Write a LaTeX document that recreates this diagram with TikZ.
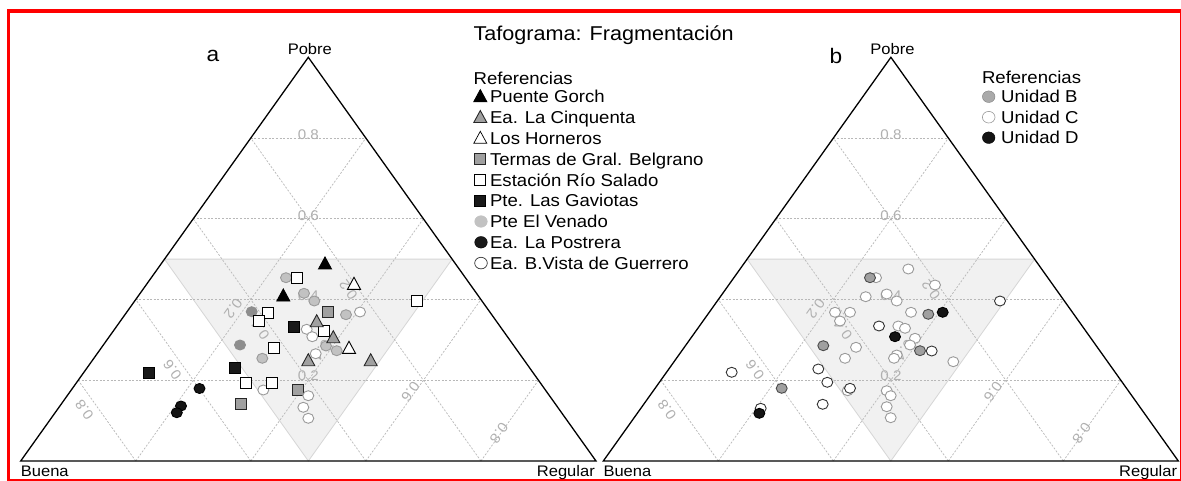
\documentclass[tikz,border=0pt]{standalone}
\usepackage{fontspec}
\setmainfont{Liberation Sans}[FakeStretch=1.08]
\usetikzlibrary{calc}
\definecolor{redf}{HTML}{FF0000}
\definecolor{gridc}{HTML}{B8B8B8}
\definecolor{lblc}{HTML}{B0B0B0}
\definecolor{shadef}{HTML}{F1F1F1}
\definecolor{shadeedge}{HTML}{D6D6D6}
\definecolor{midgray}{HTML}{A0A0A0}
\definecolor{lightg}{HTML}{C2C2C2}
\definecolor{darkg}{HTML}{8E8E8E}
\definecolor{edgeg}{HTML}{9A9A9A}
\newcommand{\mtri}[3]{\filldraw[#1] (#2,#3) ++(-6.5,5) -- ++(13,0) -- ++(-6.5,-12) -- cycle;}
\newcommand{\msq}[3]{\filldraw[#1] (#2-5.5,#3-5.5) rectangle (#2+5.5,#3+5.5);}
\newcommand{\mcir}[3]{\filldraw[#1] (#2,#3) ellipse [x radius=5.5, y radius=5];}
\newcommand{\lcir}[3]{\filldraw[#1] (#2,#3) ellipse [x radius=6.3, y radius=5.8];}
\begin{document}
\begin{tikzpicture}[x=1pt,y=-1pt,
  gridline/.style={draw=gridc, line width=0.7pt, dash pattern=on 2pt off 1.6pt},
  ticklbl/.style={text=lblc, font=\fontsize{14}{14}\selectfont, inner sep=0pt},
  axislbl/.style={font=\fontsize{15.3}{16}\selectfont, inner sep=0pt},
  legtxt/.style={font=\fontsize{17.2}{20}\selectfont, inner sep=0pt, anchor=base west},
  frame/.style={draw=black, line width=1.3pt, line join=miter},
  mk/.style={line width=0.9pt},
  blk/.style={mk, fill=black, draw=black},
  gtri/.style={mk, fill=midgray, draw=black!85},
  wtri/.style={mk, fill=white, draw=black},
  gsq/.style={mk, fill=midgray, draw=black!85},
  wsq/.style={mk, fill=white, draw=black},
  bsq/.style={mk, fill=black!90, draw=black},
  venado/.style={mk, fill=lightg, draw=edgeg},
  venadod/.style={mk, fill=darkg, draw=darkg},
  bcirc/.style={mk, fill=black!92, draw=black},
  wcirc/.style={mk, fill=white, draw=edgeg},
  wcircb/.style={mk, fill=white, draw=black!80},
  ugray/.style={mk, fill=midgray, draw=black!70},
  lwcirc/.style={line width=0.7pt, fill=white, draw=black!80}
]
\useasboundingbox (0,0) rectangle (1181,481);
\fill[white] (0,0) rectangle (1181,481);
% red frame
\fill[redf] (6.7,9.3) rectangle (1181,13.3);
\fill[redf] (6.7,9.3) rectangle (10,481);
\fill[redf] (6.7,478.7) rectangle (1181,481);
\fill[redf] (1179.6,9.3) rectangle (1181,481);

% corners
\coordinate (aB) at (20.7,461); \coordinate (aR) at (596,461); \coordinate (aP) at (308.3,57.3);
\coordinate (bB) at (603.3,461); \coordinate (bR) at (1178.3,461); \coordinate (bP) at (890.9,57.3);

\foreach \t/\dx in {a/0,b/582.6}{
  \filldraw[fill=shadef, draw=shadeedge, line width=0.8pt]
    ($(\t B)!.5!(\t P)$) -- ($(\t R)!.5!(\t P)$) -- ($(\t B)!.5!(\t R)$) -- cycle;
  \foreach \v in {0.2,0.4,0.6,0.8}{
    \draw[gridline] ($(\t B)!\v!(\t P)$) -- ($(\t R)!\v!(\t P)$);
    \draw[gridline] ($(\t R)!\v!(\t B)$) -- ($(\t P)!\v!(\t B)$);
    \draw[gridline] ($(\t B)!\v!(\t R)$) -- ($(\t P)!\v!(\t R)$);
  }
  \node[ticklbl] (\t p8) at (308.3+\dx,134.8) {0.8};
  \node[ticklbl] (\t p6) at (308.3+\dx,215.2) {0.6};
  \node[ticklbl] (\t p4) at (308.3+\dx,295.6) {0.4};
  \node[ticklbl] (\t p2) at (308.3+\dx,376.0) {0.2};
  \node[ticklbl, rotate=125.5] (\t b8) at (84.4+\dx,410) {0.8};
  \node[ticklbl, rotate=125.5] (\t b6) at (172.4+\dx,370) {0.6};
  \node[ticklbl, rotate=125.5] (\t b4) at (260.4+\dx,330) {0.4};
  \node[ticklbl, rotate=125.5] (\t b2) at (348.4+\dx,290) {0.2};
  \node[ticklbl, rotate=-125.5] (\t r8) at (499+\dx,433.3) {0.8};
  \node[ticklbl, rotate=-125.5] (\t r6) at (410.4+\dx,391.7) {0.6};
  \node[ticklbl, rotate=-125.5] (\t r4) at (321.8+\dx,350.1) {0.4};
  \node[ticklbl, rotate=-125.5] (\t r2) at (233.2+\dx,308.5) {0.2};
  \draw[frame] (\t B) -- (\t R) -- (\t P) -- cycle;
  \node[axislbl, anchor=base] (\t pobre) at ($(\t P)+(1.5,-2.8)$) {Pobre};
  \node[axislbl, anchor=base west] (\t buena) at ($(\t B)+(0,15)$) {Buena};
  \node[axislbl, anchor=base east] (\t regular) at ($(\t R)+(-1,15)$) {Regular};
}
\node[font=\fontsize{21}{22}\selectfont, inner sep=0pt, anchor=base] (la) at (213,61.7) {a};
\node[font=\fontsize{21}{22}\selectfont, inner sep=0pt, anchor=base] (lb) at (835.8,63.3) {b};

% title
\node[font=\fontsize{20}{24}\selectfont, inner sep=0pt, anchor=base west] (title) at (473.4,40.7) {Tafograma: Fragmentación};

% legend a
\node[legtxt] (refa) at (473.4,84.5) {Referencias};
\mtri{blk}{480.3}{96.7}
\mtri{gtri}{480.3}{117.5}
\mtri{line width=0.7pt, fill=white, draw=black}{480.3}{138.3}
\msq{gsq}{480.3}{159.1}
\msq{line width=0.7pt, fill=white, draw=black}{480.3}{179.9}
\msq{bsq}{480.3}{200.7}
\lcir{fill=lightg, draw=lightg}{481}{221.5}
\lcir{fill=black!90, draw=black}{481}{242.3}
\lcir{lwcirc}{481}{263.1}
\node[legtxt] (l1) at (489.9,102.9) {Puente Gorch};
\node[legtxt] (l2) at (489.9,123.7) {Ea. La Cinquenta};
\node[legtxt] (l3) at (489.9,144.5) {Los Horneros};
\node[legtxt] (l4) at (489.9,165.3) {Termas de Gral. Belgrano};
\node[legtxt] (l5) at (489.9,186.1) {Estación Río Salado};
\node[legtxt] (l6) at (489.9,206.9) {Pte. Las Gaviotas};
\node[legtxt] (l7) at (489.9,227.7) {Pte El Venado};
\node[legtxt] (l8) at (489.9,248.5) {Ea. La Postrera};
\node[legtxt] (l9) at (489.9,269.3) {Ea. B.Vista de Guerrero};

% legend b
\node[legtxt] (refb) at (981.8,83.5) {Referencias};
\lcir{fill=midgray!90, draw=gray}{988.7}{96.7}
\lcir{line width=0.6pt, fill=white, draw=edgeg}{988.7}{117.2}
\lcir{fill=black!92, draw=black}{988.7}{137.7}
\node[legtxt] (u1) at (1001,102.9) {Unidad B};
\node[legtxt] (u2) at (1001,123.4) {Unidad C};
\node[legtxt] (u3) at (1001,143.9) {Unidad D};

% data a
\mtri{blk}{325}{264}
\mcir{venado}{286}{277.7}
\msq{wsq}{297.3}{277.7}
\mtri{wtri}{354}{284.3}
\mtri{blk}{283.3}{296}
\mcir{venado}{304}{293.3}
\mcir{venado}{314.3}{301}
\msq{wsq}{416.7}{301}
\mcir{venadod}{251.7}{311.7}
\msq{wsq}{268.3}{312.7}
\msq{wsq}{259.3}{321.3}
\msq{gsq}{328.3}{312.3}
\mcir{venado}{346}{314.7}
\mcir{wcirc}{360}{312}
\msq{bsq}{294}{326.7}
\mcir{wcirc}{306.7}{329.3}
\mcir{wcirc}{312.3}{336.7}
\msq{wsq}{324}{330.7}
\mtri{gtri}{316.7}{321.7}
\mcir{venado}{326}{346}
\mcir{venado}{336.7}{350.7}
\mcir{wcirc}{315.7}{353.7}
\mtri{gtri}{333.3}{337.7}
\mtri{wtri}{349}{348.3}
\mcir{venadod}{240}{345}
\msq{wsq}{274}{347.7}
\mcir{venado}{262.3}{358.3}
\mtri{gtri}{308.3}{360.7}
\mtri{gtri}{370.7}{360.7}
\msq{bsq}{235}{368.3}
\msq{bsq}{149.3}{373.3}
\mcir{wcirc}{263.3}{390}
\msq{wsq}{245.7}{382.7}
\msq{wsq}{271.7}{383.3}
\msq{gsq}{298.3}{390}
\mcir{wcirc}{308.3}{395.7}
\mcir{wcirc}{303.3}{407.3}
\mcir{wcirc}{308.3}{418.3}
\msq{gsq}{240.7}{404}
\mcir{bcirc}{199.5}{388.5}
\mcir{bcirc}{181}{406}
\mcir{bcirc}{176.8}{412.7}

% data b
\foreach \x/\y in {908.3/269, 876/277.7, 935/285, 865.7/296.7, 886.7/294, 896.7/301,
  835/312.3, 850/312.3, 840/321, 911/312.3, 898.3/326, 905/328.3, 915/338.3, 910/345,
  856/347.3, 896.7/355, 894/358.3, 845/358.3, 953.3/361.7, 847.7/390.7, 886.7/390.7,
  890.7/395.7, 886.7/406.7, 890.7/417.7}{\mcir{wcirc}{\x}{\y}}
\foreach \x/\y in {1000/301, 879/326, 931.7/351, 731.7/372.3, 818.3/369, 827.3/382.3,
  850/388.3, 822.7/404.3, 760.7/408.3}{\mcir{wcircb}{\x}{\y}}
\foreach \x/\y in {870/277.7, 928.3/314.3, 823.3/345.7, 920/350.7, 781.7/388.3}{\mcir{ugray}{\x}{\y}}
\foreach \x/\y in {942.7/312.3, 895/336.7, 759.3/413.3}{\mcir{bcirc}{\x}{\y}}
\end{tikzpicture}
\end{document}
